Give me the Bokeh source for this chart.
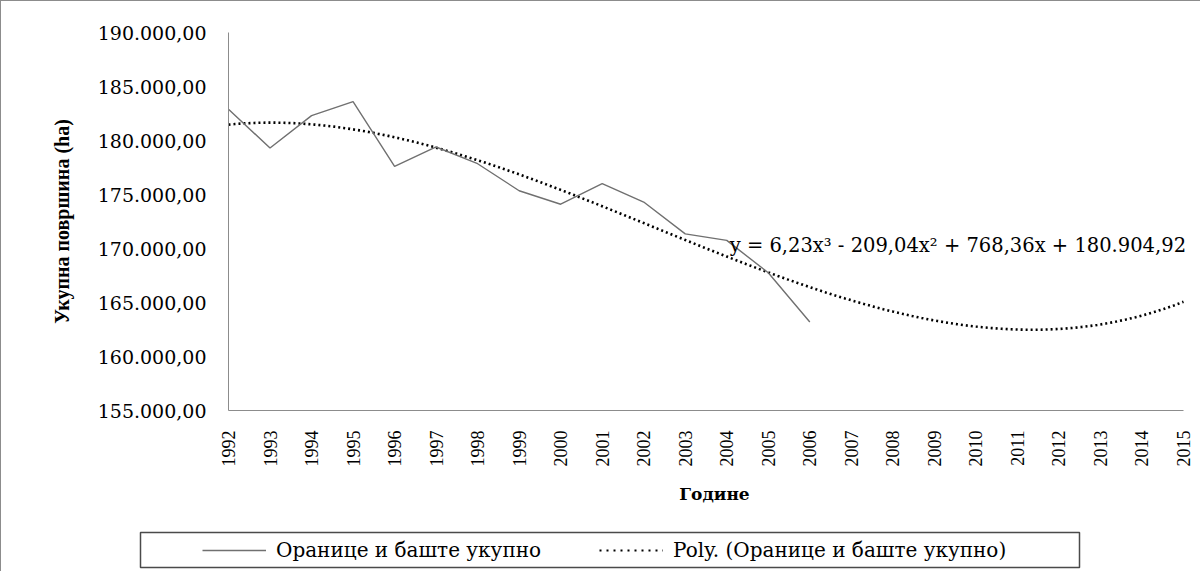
from bokeh.plotting import figure
from bokeh.layouts import column
from bokeh.models import Range1d, FixedTicker, Label, Legend, LegendItem, BoxAnnotation
from bokeh.embed import file_html
from bokeh.resources import INLINE
from math import pi
import numpy as np

# ---- data ----
years = list(range(1992, 2007))
values = [182900, 179300, 182300, 183600, 177600, 179400, 177850,
          175350, 174100, 176000, 174300, 171350, 170750, 167750, 163200]
axis_years = list(range(1992, 2016))
trend_coeffs = [6.23, -209.04, 768.36, 180904.92]   # y = 6,23x^3 - 209,04x^2 + 768,36x + 180.904,92
y_ticks = [155000, 160000, 165000, 170000, 175000, 180000, 185000, 190000]
y_tick_labels = ["155.000,00", "160.000,00", "165.000,00", "170.000,00",
                 "175.000,00", "180.000,00", "185.000,00", "190.000,00"]
series_name = "Оранице и баште укупно"
trend_name = "Poly. (Оранице и баште укупно)"
equation = "y = 6,23x³ - 209,04x² + 768,36x + 180.904,92"
y_title = "Укупна површина (ha)"
x_title = "Године"

SERIF_WIDE = "DejaVu Serif"
SERIF = "Liberation Serif"
BORDER = "1px solid #8c8c8c"

# ---- layout (pixels) ----
FRAME_W, FRAME_H = 972, 378
AXIS_W = 955                      # width of the 1992..2015 category axis
x0, x1 = axis_years[0], axis_years[-1]
x_end = x0 + FRAME_W * (x1 - x0) / AXIS_W

p = figure(frame_width=FRAME_W, frame_height=FRAME_H, output_backend="svg",
           toolbar_location=None,
           x_range=Range1d(x0, x_end), y_range=Range1d(y_ticks[0], y_ticks[-1]),
           min_border_left=227, min_border_right=0, min_border_top=31, min_border_bottom=115)
p.outline_line_color = None
p.grid.visible = False

# trend line from the chart's polynomial (x = 1 for 1992)
tx = np.linspace(1, len(axis_years), 300) + (x0 - 1)
ty = np.polyval(trend_coeffs, tx - (x0 - 1))
trend_style = dict(line_color="black", line_width=2.6, line_dash="2 3")
data_style = dict(line_color="#707070", line_width=1.4)
p.line(tx, ty, **trend_style)
p.line(years, values, **data_style)

# axes
for ax in (p.xaxis, p.yaxis):
    ax.axis_line_color = "#8c8c8c"
    ax.major_tick_line_color = None
    ax.minor_tick_line_color = None
    ax.major_tick_out = 0
    ax.major_tick_in = 0
    ax.minor_tick_out = 0
    ax.minor_tick_in = 0
    ax.major_label_text_color = "black"
    ax.axis_label_text_color = "black"

p.xaxis.bounds = (x0, x1)
p.xaxis.ticker = FixedTicker(ticks=axis_years)
p.xaxis.major_label_orientation = pi / 2
p.xaxis.major_label_text_font = SERIF
p.xaxis.major_label_text_font_size = "18px"
p.xaxis.major_label_standoff = 20
p.xaxis.axis_label = x_title
p.xaxis.axis_label_text_font = SERIF_WIDE
p.xaxis.axis_label_text_font_style = "bold"
p.xaxis.axis_label_text_font_size = "17px"
p.xaxis.axis_label_standoff = 14

p.yaxis.ticker = FixedTicker(ticks=y_ticks)
p.yaxis.major_label_overrides = {t: l for t, l in zip(y_ticks, y_tick_labels)}
p.yaxis.major_label_text_font = SERIF_WIDE
p.yaxis.major_label_text_font_size = "19px"
p.yaxis.major_label_standoff = 22
p.yaxis.axis_label = y_title
p.yaxis.axis_label_text_font = SERIF
p.yaxis.axis_label_text_font_style = "bold"
p.yaxis.axis_label_text_font_size = "20px"
p.yaxis.axis_label_standoff = 22

# trend equation
p.add_layout(Label(x=2004.07, y=170300, text=equation, text_font=SERIF_WIDE,
                   text_font_size="19.5px", text_color="black",
                   text_align="left", text_baseline="middle"))

# ---- legend strip below the chart (pixel data units) ----
LEG_W, LEG_H = 1199, 46
q = figure(width=LEG_W, height=LEG_H, output_backend="svg", toolbar_location=None,
           x_range=Range1d(0, LEG_W), y_range=Range1d(0, LEG_H),
           x_axis_location=None, y_axis_location=None, min_border=0,
           min_border_left=0, min_border_right=0, min_border_top=0, min_border_bottom=0)
q.outline_line_color = None
q.grid.visible = False
for fig in (p, q):
    if "frame_align" in fig.properties():
        fig.frame_align = False
q.add_layout(BoxAnnotation(left=139, right=1078, bottom=4, top=39,
                           fill_color="white", fill_alpha=1,
                           line_color="#4a4a4a", line_alpha=1, line_width=1.5))
# same series, drawn off this strip's visible range; only their legend glyphs show
l_data = q.line(years, values, **data_style)
l_trend = q.line(tx, ty, line_color="black", line_width=2, line_dash="2 5")
legend = Legend(items=[LegendItem(label=series_name, renderers=[l_data]),
                       LegendItem(label=trend_name, renderers=[l_trend])],
                orientation="horizontal", location=(201, 9),
                label_text_font=SERIF_WIDE, label_text_font_size="20px",
                label_text_color="black",
                border_line_color=None, background_fill_alpha=0,
                glyph_width=64, glyph_height=24, label_height=24,
                label_standoff=10, spacing=58, padding=0, margin=0)
q.add_layout(legend)

page = column(p, q, spacing=0)
page.styles = {"border-left": BORDER, "border-top": BORDER}

open("out.html", "w").write(file_html(page, INLINE))
